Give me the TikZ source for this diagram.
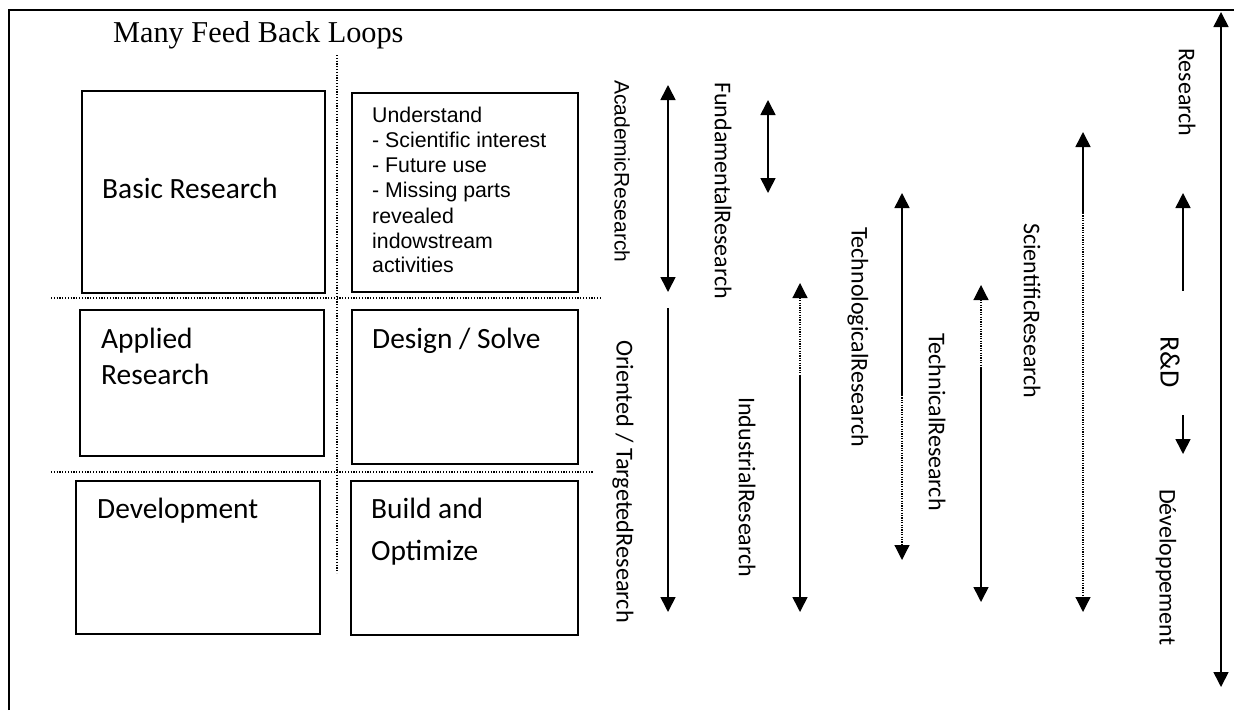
\documentclass[tikz,border=0pt]{standalone}
\usepackage{fontspec}
\usetikzlibrary{arrows.meta}
\newfontfamily\calfont{Carlito}
\newfontfamily\arifont{Liberation Sans}
\newfontfamily\tnrfont{Liberation Serif}
\tikzset{
  box/.style={draw, line width=1.6pt, inner sep=0pt, anchor=north west},
  ctext/.style={font=\calfont\fontsize{29.4}{35}\selectfont, anchor=base west, inner sep=0pt},
  atext/.style={font=\arifont\fontsize{21.3}{25}\selectfont, anchor=base west, inner sep=0pt},
  vlab/.style={font=\calfont\fontsize{24}{28}\selectfont, rotate=-90, anchor=west, inner sep=0pt},
  solidline/.style={line width=1.6pt},
  dotline/.style={line width=1.2pt, dash pattern=on 1.2pt off 1.2pt},
  tipe/.style={-{Triangle[width=15pt,length=15pt]}},
  tips/.style={{Triangle[width=15pt,length=15pt]}-},
  tipb/.style={{Triangle[width=15pt,length=15pt]}-{Triangle[width=15pt,length=15pt]}},
  grid/.style={line width=1.2pt, dash pattern=on 1.2pt off 1.6pt}
}
\begin{document}
\begin{tikzpicture}[x=1pt,y=-1pt]
\useasboundingbox (0,0) rectangle (1234,710);
% frame
\draw[line width=1.6pt] (9,710) -- (9,10) -- (1234,10);
% title
\node[font=\tnrfont\fontsize{30.3}{35}\selectfont, anchor=base west, inner sep=0pt] (title) at (113,42) {Many Feed Back Loops};
% grid dotted lines
\draw[grid] (337,55) -- (337,573);
\draw[grid] (51,298) -- (602,298);
\draw[grid] (51,472) -- (593,472);
% boxes
\node[box, minimum width=243pt, minimum height=202pt] (basic) at (81,90) {};
\node[box, minimum width=226pt, minimum height=199pt] (underst) at (351,92) {};
\node[box, minimum width=244pt, minimum height=146pt] (applied) at (79,309) {};
\node[box, minimum width=226pt, minimum height=154pt] (design) at (351,309) {};
\node[box, minimum width=244pt, minimum height=153pt] (devel) at (75,480) {};
\node[box, minimum width=227pt, minimum height=154pt] (build) at (350,480) {};
% box texts
\node[ctext] (tbasic) at (102,198) {Basic Research};
\node[ctext] (tapp1) at (101,348) {Applied};
\node[ctext] (tapp2) at (101,384) {Research};
\node[ctext] (tdev) at (97,518) {Development};
\node[ctext] (tdes) at (372,348) {Design / Solve};
\node[ctext] (tbld1) at (371,518) {Build and};
\node[ctext] (tbld2) at (371,560) {Optimize};
\node[atext] (u1) at (372,122) {Understand};
\node[atext] (u2) at (372,147) {- Scientific interest};
\node[atext] (u3) at (372,172) {- Future use};
\node[atext] (u4) at (372,197) {- Missing parts};
\node[atext] (u5) at (372,223) {revealed};
\node[atext] (u6) at (372,248) {indowstream};
\node[atext] (u7) at (372,272) {activities};
% vertical labels
\node[vlab, font=\arifont\fontsize{21}{25}\selectfont] (lacad) at (622,80) {AcademicResearch};
\node[vlab] (lfund) at (723,82) {FundamentalResearch};
\node[vlab, font=\calfont\fontsize{24.3}{28}\selectfont] (lorient) at (623,340) {Oriented / TargetedResearch};
\node[vlab] (lind) at (747,397) {IndustrialResearch};
\node[vlab] (ltechno) at (858,227) {TechnologicalResearch};
\node[vlab] (ltechn) at (937,333) {TechnicalResearch};
\node[vlab] (lsci) at (1032,223) {ScientificResearch};
\node[vlab] (lres) at (1187,48) {Research};
\node[vlab, font=\calfont\fontsize{28}{32}\selectfont] (lrd) at (1170,336) {R\&D};
\node[vlab] (ldev) at (1166,489) {Développement};
% arrow coordinates
\coordinate (a1t) at (668,85);  \coordinate (a1b) at (668,292);
\coordinate (a2t) at (768,100); \coordinate (a2b) at (768,193);
\coordinate (a3t) at (668,308); \coordinate (a3b) at (668,612);
\coordinate (a4t) at (800,283); \coordinate (a4m) at (800,375); \coordinate (a4b) at (800,612);
\coordinate (a5t) at (902,193); \coordinate (a5m) at (902,395); \coordinate (a5b) at (902,560);
\coordinate (a6t) at (981,285); \coordinate (a6m) at (981,367); \coordinate (a6b) at (981,602);
\coordinate (a7t) at (1083,132); \coordinate (a7m) at (1083,213); \coordinate (a7b) at (1083,612);
\coordinate (a8t) at (1183,193); \coordinate (a8b) at (1183,291);
\coordinate (a9t) at (1183,415); \coordinate (a9b) at (1183,454);
\coordinate (a10t) at (1221,12); \coordinate (a10b) at (1221,687);
% arrows
\draw[solidline, tipb] (a1t) -- (a1b);
\draw[solidline, tipb] (a2t) -- (a2b);
\draw[solidline, tipe] (a3t) -- (a3b);
\draw[dotline, tips] (a4t) -- (a4m);
\draw[solidline, tipe] (a4m) -- (a4b);
\draw[solidline, tips] (a5t) -- (a5m);
\draw[dotline, tipe] (a5m) -- (a5b);
\draw[dotline, tips] (a6t) -- (a6m);
\draw[solidline, tipe] (a6m) -- (a6b);
\draw[solidline, tips] (a7t) -- (a7m);
\draw[dotline, tipe] (a7m) -- (a7b);
\draw[solidline, tips] (a8t) -- (a8b);
\draw[solidline, tipe] (a9t) -- (a9b);
\draw[solidline, tipb] (a10t) -- (a10b);
\end{tikzpicture}
\end{document}
